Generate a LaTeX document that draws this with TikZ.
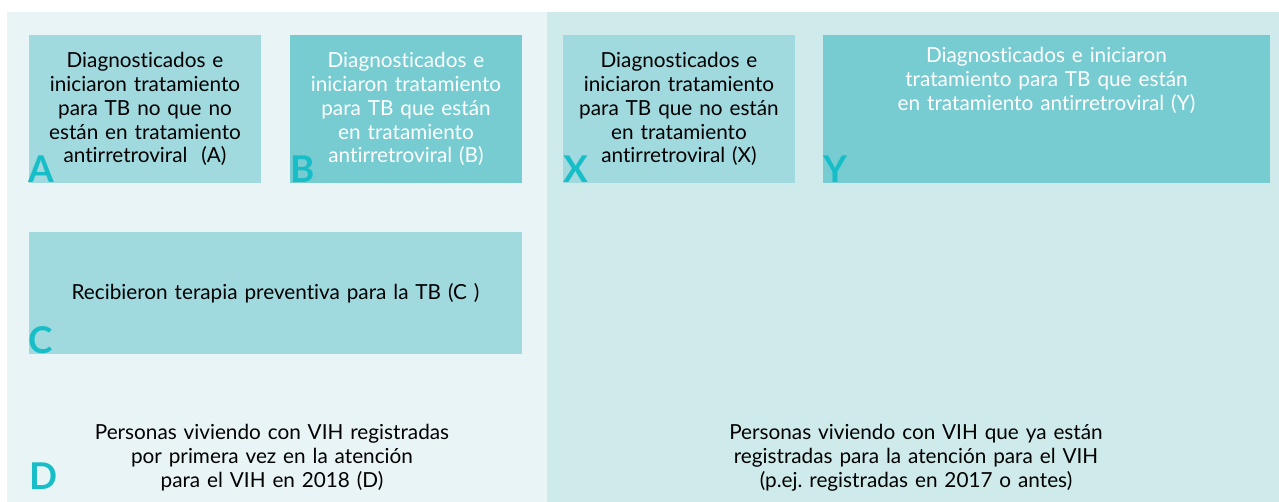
\documentclass[tikz,border=0pt]{standalone}
\usepackage{fontspec}
\setmainfont{Lato}[WordSpace=1.3,Ligatures={NoCommon}]
\frenchspacing
\usetikzlibrary{positioning}

\definecolor{panelL}{HTML}{E8F4F5}
\definecolor{panelR}{HTML}{CEEAEB}
\definecolor{boxlight}{HTML}{A0D9DE}
\definecolor{boxdark}{HTML}{77CCD2}
\definecolor{lettercol}{HTML}{17BEC7}

\begin{document}
\begin{tikzpicture}[x=0.02cm, y=-0.02cm]
		\tikzstyle{panel}=[draw=none,inner sep=0,anchor=north west]
		\tikzstyle{light}=[fill=boxlight,draw=none,inner sep=0,text=black,font=\fontsize{11.8}{13.6}\selectfont,align=center]
		\tikzstyle{dark}=[fill=boxdark,draw=none,inner sep=0,text=white,font=\fontsize{11.8}{13.6}\selectfont,align=center]
		\tikzstyle{letter}=[anchor=south west,inner sep=0,text=lettercol,font=\fontsize{21}{21}\selectfont\bfseries]
		\tikzstyle{basetext}=[text=black,font=\fontsize{11.8}{13.6}\selectfont,align=center]
		
		\useasboundingbox (0,0) rectangle (1279,502);
		\fill[white] (0,0) rectangle (1279,502);
		
		\node[panel,fill=panelL,minimum width=540*0.02cm,minimum height=490*0.02cm] at (7,12) (PL) {};
		\node[panel,fill=panelR,minimum width=732*0.02cm,minimum height=490*0.02cm] at (547,12) (PR) {};
		
		\node[light,minimum width=232*0.02cm,minimum height=148*0.02cm] at (145,109) (A)
			{Diagnosticados e\\iniciaron tratamiento\\para TB no que no\\están en tratamiento\\antirretroviral\ \ (A)};
		\node[dark,minimum width=232*0.02cm,minimum height=148*0.02cm] at (406,109) (B)
			{Diagnosticados e\\iniciaron tratamiento\\para TB que están\\en tratamiento\\antirretroviral (B)};
		\node[light,minimum width=232*0.02cm,minimum height=148*0.02cm] at (679,109) (X)
			{Diagnosticados e\\iniciaron tratamiento\\para TB que no están\\en tratamiento\\antirretroviral (X)};
		\node[dark,minimum width=447*0.02cm,minimum height=148*0.02cm] at (1046.5,109) (Y) {};
		\node[dark,fill=none,anchor=north] at ([yshift=-0.24cm]Y.north) (Ytext)
			{Diagnosticados e iniciaron\\tratamiento para TB que están\\en tratamiento antirretroviral (Y)};
		\node[light,minimum width=493*0.02cm,minimum height=122*0.02cm] at (275.5,293) (C)
			{Recibieron terapia preventiva para la TB (C )};
		
		\node[letter] at (A.south west) (lA) {A};
		\node[letter] at (B.south west) (lB) {B};
		\node[letter] at (X.south west) (lX) {X};
		\node[letter] at (Y.south west) (lY) {Y};
		\node[letter] at (C.south west) (lC) {C};
		\node[letter] at (29,490) (lD) {D};
		
		\node[basetext] at (272,458) (D)
			{Personas viviendo con VIH registradas\\por primera vez en la atención\\para el VIH en 2018 (D)};
		\node[basetext] at (916,458) (E)
			{Personas viviendo con VIH que ya están\\registradas para la atención para el VIH\\(p.ej. registradas en 2017 o antes)};
	\end{tikzpicture}
\end{document}
